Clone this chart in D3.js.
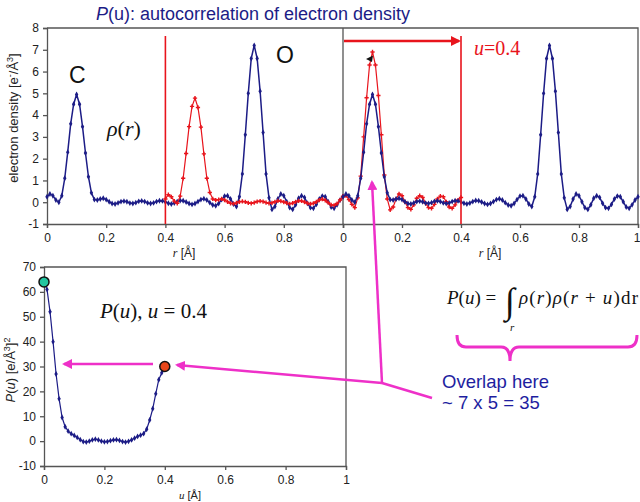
<!DOCTYPE html>
<html>
<head>
<meta charset="utf-8">
<script src="https://cdn.jsdelivr.net/npm/d3@7"></script>
<style>
  body { margin: 0; background: #fff; }
  svg { display: block; }
  .tick text { font-family: "Liberation Sans", Arial, sans-serif; font-size: 12px; fill: #222; }
  .domain, .tick line { stroke: #555; stroke-width: 1.3; }
</style>
</head>
<body>
<script>
// sampling step of the density curves (Å)
const rStep = 0.01;

// rho(r), blue curve, r = 0 .. 1
const rhoBlue = [
  0.25, 0.38, 0.30, 0.10, 0.00, 0.30, 1.10, 2.30, 3.60, 4.50,
  4.95, 4.50, 3.47, 2.26, 1.17, 0.43, 0.12, 0.10, 0.15, 0.18,
  0.12, 0.02, -0.06, -0.08, -0.03, 0.03, 0.05, 0.02, -0.04, -0.06,
  -0.02, 0.04, 0.06, 0.03, -0.03, -0.06, -0.03, 0.03, 0.07, 0.06,
  0.01, -0.05, -0.08, -0.04, 0.03, 0.08, 0.07, 0.01, -0.06, -0.10,
  -0.06, 0.03, 0.12, 0.16, 0.10, -0.02, -0.13, -0.16, -0.06, 0.12,
  0.28, 0.30, 0.15, -0.08, -0.20, 0.25, 1.30, 3.10, 5.00, 6.60,
  7.20, 6.60, 5.10, 3.20, 1.30, 0.20, -0.33, -0.20, 0.15, 0.38,
  0.30, 0.02, -0.25, -0.33, -0.12, 0.18, 0.30, 0.22, -0.05, -0.25,
  -0.28, -0.10, 0.15, 0.28, 0.25, 0.02, -0.22, -0.28, -0.12, 0.10,
  0.25
];

// rho(r+u), red curve in the left panel, r = 0.40 .. 1.00
const redLeftStart = 0.40;
const rhoRedLeft = [
  0.15, 0.35, 0.25, 0.05, -0.05, 0.28, 1.10, 2.24, 3.47, 4.40,
  4.78, 4.35, 3.45, 2.22, 1.10, 0.45, 0.15, 0.10, 0.12, 0.15,
  0.10, 0.02, -0.05, -0.07, -0.03, 0.02, 0.04, 0.02, -0.03, -0.05,
  -0.02, 0.03, 0.05, 0.03, -0.02, -0.05, -0.03, 0.02, 0.06, 0.05,
  0.01, -0.04, -0.07, -0.04, 0.02, 0.06, 0.06, 0.01, -0.05, -0.08,
  -0.05, 0.02, 0.10, 0.14, 0.09, -0.02, -0.12, -0.14, -0.06, 0.10,
  0.25
];

// rho(r+u), red curve in the right panel, r = 0 .. 0.40
const rhoRedRight = [
  0.28, 0.30, 0.12, -0.10, -0.25, 0.20, 1.20, 3.00, 4.80, 6.30,
  6.90, 6.30, 4.90, 3.10, 1.25, 0.15, -0.35, -0.22, 0.15, 0.38,
  0.30, 0.02, -0.25, -0.33, -0.12, 0.18, 0.30, 0.22, -0.05, -0.25,
  -0.28, -0.10, 0.15, 0.28, 0.25, 0.02, -0.22, -0.28, -0.12, 0.10,
  0.22
];

// P(u), u = 0 .. 0.40
const pu = [
  64, 61, 52, 40, 27, 17, 9.5, 5.8, 4.0, 3.0,
  2.3, 1.5, 0.6, -0.2, -0.4, 0.0, 0.5, 0.8, 0.5, 0.0,
  -0.3, -0.2, 0.2, 0.5, 0.6, 0.3, -0.2, -0.4, -0.1, 0.5,
  1.2, 1.9, 2.4, 3.0, 4.8, 8.5, 13, 19, 24.7, 27.5,
  30
];

const xTicks = [0, 0.2, 0.4, 0.6, 0.8, 1];
const yTicksTop = [-1, 0, 1, 2, 3, 4, 5, 6, 7, 8];
const yTicksBottom = [-10, 0, 10, 20, 30, 40, 50, 60, 70];
const uMark = 0.4;

const navy = "#1c1c86";
const red = "#e8141c";
const magenta = "#ee30c8";
const sans = "'Liberation Sans', Arial, sans-serif";
const serif = "'Liberation Serif', 'Times New Roman', serif";

const svg = d3.select("body").append("svg")
    .attr("width", 640)
    .attr("height", 502);

const defs = svg.append("defs");
defs.append("marker").attr("id", "magHead")
    .attr("viewBox", "0 0 10 10").attr("refX", 8).attr("refY", 5)
    .attr("markerWidth", 4).attr("markerHeight", 4).attr("orient", "auto")
    .append("path").attr("d", "M0,0L10,5L0,10z").attr("fill", magenta);
defs.append("marker").attr("id", "redHead")
    .attr("viewBox", "0 0 10 10").attr("refX", 8).attr("refY", 5)
    .attr("markerWidth", 4).attr("markerHeight", 4).attr("orient", "auto")
    .append("path").attr("d", "M0,0L10,5L0,10z").attr("fill", red);

// scales
const xL = d3.scaleLinear().domain([0, 1]).range([47, 343]);
const xR = d3.scaleLinear().domain([0, 1]).range([343, 638]);
const y = d3.scaleLinear().domain([-1, 8]).range([224, 28]);
const xB = d3.scaleLinear().domain([0, 1]).range([44, 346]);
const yB = d3.scaleLinear().domain([-10, 70]).range([466, 267]);

// title
const title = svg.append("text")
    .attr("x", 253).attr("y", 20)
    .attr("text-anchor", "middle")
    .attr("font-family", sans).attr("font-size", 18)
    .attr("fill", navy);
title.append("tspan").attr("font-style", "italic").text("P");
title.append("tspan").text("(u): autocorrelation of electron density");

// frames
svg.append("path")
    .attr("d", `M${xL(0)},${y(8)}H${xR(1)}V${y(-1)}M${xR(0)},${y(8)}V${y(-1)}`)
    .attr("fill", "none").attr("stroke", "#555").attr("stroke-width", 1.3);
svg.append("path")
    .attr("d", `M${xB(0)},${yB(70)}H${xB(1)}V${yB(-10)}`)
    .attr("fill", "none").attr("stroke", "#555").attr("stroke-width", 1.3);

// axes top-left
svg.append("g").attr("transform", `translate(0,${y(-1)})`)
    .call(d3.axisBottom(xL).tickValues(xTicks.slice(0, 5)).tickSize(4).tickPadding(5).tickFormat(d => String(d)));
svg.append("g").attr("transform", `translate(${xL(0)},0)`)
    .call(d3.axisLeft(y).tickValues(yTicksTop).tickSize(4).tickPadding(4).tickFormat(d => String(d)));
// axes top-right
svg.append("g").attr("transform", `translate(0,${y(-1)})`)
    .call(d3.axisBottom(xR).tickValues(xTicks).tickSize(4).tickPadding(5).tickFormat(d => String(d)))
    .call(g => g.selectAll(".tick text").filter(d => d === 1).attr("text-anchor", "end").attr("dx", 2));
// axes bottom
svg.append("g").attr("transform", `translate(0,${yB(-10)})`)
    .call(d3.axisBottom(xB).tickValues(xTicks).tickSize(4).tickPadding(5).tickFormat(d => String(d)));
svg.append("g").attr("transform", `translate(${xB(0)},0)`)
    .call(d3.axisLeft(yB).tickValues(yTicksBottom).tickSize(4).tickPadding(4).tickFormat(d => String(d)));

// axis titles
const yl = svg.append("text")
    .attr("transform", `translate(18,118) rotate(-90)`)
    .attr("text-anchor", "middle")
    .attr("font-family", sans).attr("font-size", 13).attr("fill", "#222");
yl.append("tspan").text("electron density [e");
yl.append("tspan").attr("baseline-shift", "super").attr("font-size", 9).text("-");
yl.append("tspan").text("/Å");
yl.append("tspan").attr("baseline-shift", "super").attr("font-size", 9).text("3");
yl.append("tspan").text("]");

function rLabel(cx, cy) {
  const t = svg.append("text").attr("x", cx).attr("y", cy)
      .attr("text-anchor", "middle")
      .attr("font-family", sans).attr("font-size", 12).attr("fill", "#222");
  t.append("tspan").attr("font-family", serif).attr("font-style", "italic").text("r");
  t.append("tspan").text(" [Å]");
}
rLabel(184, 257);
rLabel(490, 257);

const yb = svg.append("text")
    .attr("transform", `translate(15,370) rotate(-90)`)
    .attr("text-anchor", "middle")
    .attr("font-family", sans).attr("font-size", 13).attr("fill", "#222");
yb.append("tspan").attr("font-style", "italic").text("P");
yb.append("tspan").text("(");
yb.append("tspan").attr("font-style", "italic").text("u");
yb.append("tspan").text(") [e/Å");
yb.append("tspan").attr("baseline-shift", "super").attr("font-size", 9).text("3");
yb.append("tspan").attr("baseline-shift", "baseline").text("]");
yb.append("tspan").attr("baseline-shift", "super").attr("font-size", 9).text("2");

const ul = svg.append("text").attr("x", 190).attr("y", 499)
    .attr("text-anchor", "middle")
    .attr("font-family", sans).attr("font-size", 11).attr("fill", "#222");
ul.append("tspan").attr("font-family", serif).attr("font-style", "italic").text("u");
ul.append("tspan").text(" [Å]");

// curves
function series(values, start, xs, ys, color, width, marker) {
  const pts = values.map((v, i) => [start + i * rStep, v]);
  svg.append("path").datum(pts)
      .attr("fill", "none").attr("stroke", color).attr("stroke-width", width)
      .attr("d", d3.line().x(d => xs(d[0])).y(d => ys(d[1])));
  svg.append("g").selectAll("path").data(pts).join("path")
      .attr("transform", d => `translate(${xs(d[0])},${ys(d[1])})`)
      .attr("d", d3.symbol(marker, 10))
      .attr("fill", color);
}

series(rhoBlue, 0, xL, y, navy, 1.5, d3.symbolDiamond);
series(rhoRedLeft, redLeftStart, xL, y, red, 1.2, d3.symbolCross);
series(rhoRedRight, 0, xR, y, red, 1.2, d3.symbolCross);
series(rhoBlue, 0, xR, y, navy, 1.5, d3.symbolDiamond);
series(pu, 0, xB, yB, navy, 1.2, d3.symbolDiamond);

// red shift markers
svg.append("line")
    .attr("x1", xL(uMark)).attr("x2", xL(uMark)).attr("y1", 36).attr("y2", y(-1))
    .attr("stroke", red).attr("stroke-width", 1.6);
svg.append("line")
    .attr("x1", xR(uMark)).attr("x2", xR(uMark)).attr("y1", 36).attr("y2", y(-1))
    .attr("stroke", red).attr("stroke-width", 1.6);
svg.append("line")
    .attr("x1", xR(0) + 1).attr("x2", xR(uMark) - 2).attr("y1", 41).attr("y2", 41)
    .attr("stroke", red).attr("stroke-width", 2.5).attr("marker-end", "url(#redHead)");
const ut = svg.append("text").attr("x", 474).attr("y", 55)
    .attr("font-family", serif).attr("font-size", 20).attr("fill", red);
ut.append("tspan").attr("font-style", "italic").text("u");
ut.append("tspan").text("=0.4");

// small black pointer at the red peak
svg.append("path")
    .attr("d", "M366,59L373,55.5L372,62z")
    .attr("fill", "#111");

// atom labels
svg.append("text").attr("x", 69).attr("y", 83)
    .attr("font-family", sans).attr("font-size", 23).attr("fill", "#111").text("C");
svg.append("text").attr("x", 276).attr("y", 63)
    .attr("font-family", sans).attr("font-size", 23).attr("fill", "#111").text("O");
const rho = svg.append("text").attr("x", 107).attr("y", 136)
    .attr("font-family", serif).attr("font-size", 22).attr("fill", "#111");
rho.append("tspan").attr("font-style", "italic").text("ρ");
rho.append("tspan").text("(");
rho.append("tspan").attr("font-style", "italic").text("r");
rho.append("tspan").text(")");

// P(u), u = 0.4
const pl = svg.append("text").attr("x", 100).attr("y", 318)
    .attr("font-family", serif).attr("font-size", 21).attr("fill", "#111");
pl.append("tspan").attr("font-style", "italic").text("P");
pl.append("tspan").text("(");
pl.append("tspan").attr("font-style", "italic").text("u");
pl.append("tspan").text("), ");
pl.append("tspan").attr("font-style", "italic").text("u");
pl.append("tspan").text(" = 0.4");

// formula
const f1 = svg.append("text").attr("x", 447).attr("y", 304)
    .attr("font-family", serif).attr("font-size", 19).attr("fill", "#111");
f1.append("tspan").attr("font-style", "italic").text("P");
f1.append("tspan").text("(");
f1.append("tspan").attr("font-style", "italic").text("u");
f1.append("tspan").text(") =");
svg.append("text").attr("x", 505).attr("y", 313)
    .attr("font-family", serif).attr("font-size", 36).attr("fill", "#111").text("∫");
svg.append("text").attr("x", 510).attr("y", 331)
    .attr("font-family", serif).attr("font-style", "italic").attr("font-size", 11).attr("fill", "#111").text("r");
const f2 = svg.append("text").attr("x", 519).attr("y", 304)
    .attr("font-family", serif).attr("font-size", 19).attr("fill", "#111")
    .attr("textLength", 119).attr("lengthAdjust", "spacing");
f2.append("tspan").attr("font-style", "italic").text("ρ");
f2.append("tspan").text("(");
f2.append("tspan").attr("font-style", "italic").text("r");
f2.append("tspan").text(")");
f2.append("tspan").attr("font-style", "italic").text("ρ");
f2.append("tspan").text("(");
f2.append("tspan").attr("font-style", "italic").text("r");
f2.append("tspan").text(" + ");
f2.append("tspan").attr("font-style", "italic").text("u");
f2.append("tspan").text(")dr");

// brace under the integrand
svg.append("path")
    .attr("d", "M457,335Q457,347 466,347H501Q510,347 510,361Q510,347 519,347H628Q637,347 637,335")
    .attr("fill", "none").attr("stroke", magenta).attr("stroke-width", 3);

// overlap note
svg.append("text").attr("x", 442).attr("y", 388)
    .attr("font-family", sans).attr("font-size", 18.5).attr("fill", "#1e1ea0").text("Overlap here");
svg.append("text").attr("x", 442).attr("y", 409)
    .attr("font-family", sans).attr("font-size", 18.5).attr("fill", "#1e1ea0").text("~ 7 x 5 = 35");

// magenta arrows
const hub = [382, 383];
svg.append("line").attr("x1", hub[0]).attr("y1", hub[1]).attr("x2", 432).attr("y2", 398)
    .attr("stroke", magenta).attr("stroke-width", 2.5);
svg.append("line").attr("x1", hub[0]).attr("y1", hub[1]).attr("x2", 372).attr("y2", 182)
    .attr("stroke", magenta).attr("stroke-width", 2.5).attr("marker-end", "url(#magHead)");
svg.append("line").attr("x1", hub[0]).attr("y1", hub[1]).attr("x2", 177).attr("y2", 365)
    .attr("stroke", magenta).attr("stroke-width", 2.5).attr("marker-end", "url(#magHead)");
svg.append("line").attr("x1", 153).attr("y1", yB(31)).attr("x2", 64).attr("y2", yB(31))
    .attr("stroke", magenta).attr("stroke-width", 2.5).attr("marker-end", "url(#magHead)");

// highlighted P(u) points
svg.append("circle").attr("cx", xB(0)).attr("cy", yB(pu[0])).attr("r", 5)
    .attr("fill", "#22c4a0").attr("stroke", "#111").attr("stroke-width", 1.5);
svg.append("circle").attr("cx", xB(uMark)).attr("cy", yB(pu[pu.length - 1])).attr("r", 5)
    .attr("fill", "#e8461a").attr("stroke", "#111").attr("stroke-width", 1.5);
</script>
</body>
</html>
